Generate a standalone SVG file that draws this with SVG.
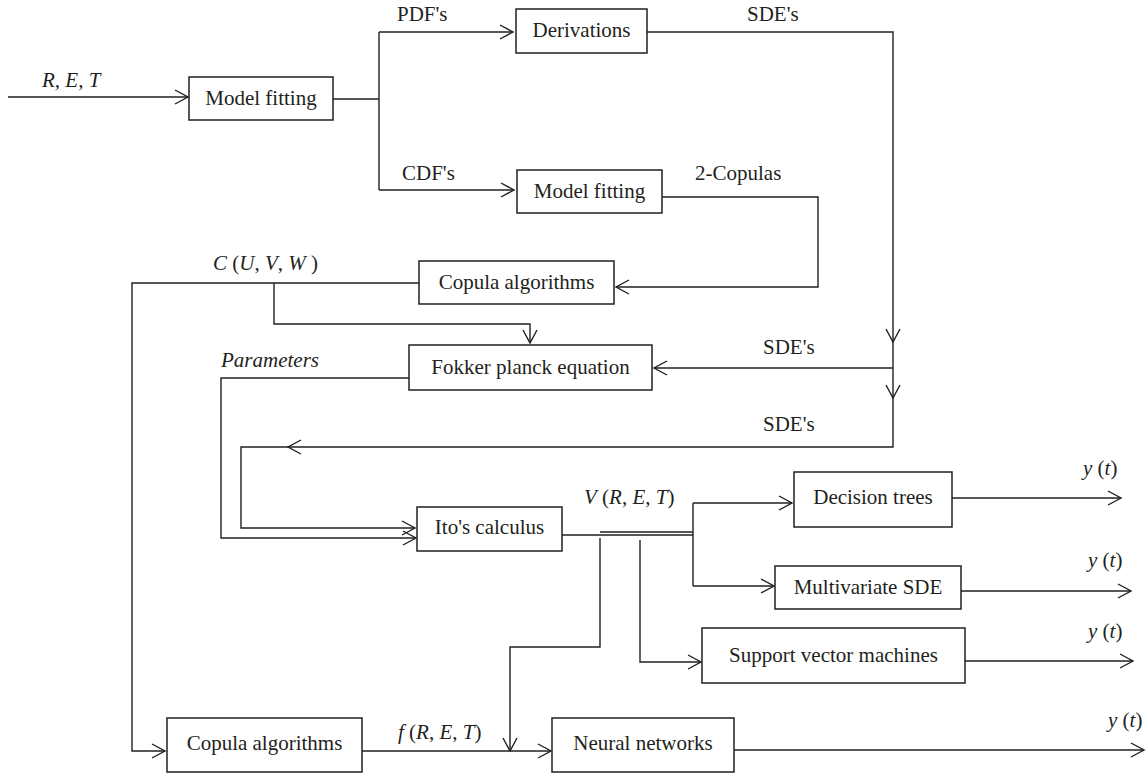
<svg xmlns="http://www.w3.org/2000/svg" width="1148" height="776" viewBox="0 0 1148 776">
<style>
.box{fill:#fff;stroke:#231f20;stroke-width:1.5}
.t{font-family:"Liberation Serif","Times New Roman",serif;font-size:21px;fill:#231f20}
.c{text-anchor:middle}
.i{font-style:italic}
.ln{fill:none;stroke:#231f20;stroke-width:1.4}
.ar{marker-end:url(#arr)}
</style>
<defs>
<marker id="arr" markerUnits="userSpaceOnUse" markerWidth="16" markerHeight="16" viewBox="0 0 16 16" refX="14" refY="8" orient="auto">
<path d="M1,1 L14,8 L1,15" fill="none" stroke="#231f20" stroke-width="1.4"/>
</marker>
</defs>
<rect width="1148" height="776" fill="#fff"/>
<g id="connectors">
<path class="ln ar" d="M8,97 H188"/>
<path class="ln" d="M333,99 H379" stroke-width="2.4"/>
<path class="ln" d="M379,32 V190"/>
<path class="ln ar" d="M379,32 H513"/>
<path class="ln ar" d="M379,190 H514"/>
<path class="ln ar" d="M647,32 H893 V342"/>
<path class="ln ar" d="M893,342 V447 H241 V528 H415"/>
<path class="ln" d="M886,385 L893,398 L900,385"/>
<path class="ln" d="M301,440 L288,447 L301,454"/>
<path class="ln ar" d="M893,368 H654"/>
<path class="ln ar" d="M662,197 H818 V287 H616"/>
<path class="ln ar" d="M419,283 H132 V751 H165"/>
<path class="ln ar" d="M274,283 V324 H530 V343"/>
<path class="ln ar" d="M410,378 H221 V538 H416"/>
<path class="ln" d="M562,535 H693"/>
<path class="ln" d="M600,532 H693"/>
<path class="ln" d="M693,503 V586"/>
<path class="ln ar" d="M693,503 H792"/>
<path class="ln ar" d="M693,586 H774"/>
<path class="ln ar" d="M600,538 V647 H510 V751"/>
<path class="ln ar" d="M640,540 V662 H701"/>
<path class="ln ar" d="M362,751 H551"/>
<path class="ln ar" d="M952,498 H1121"/>
<path class="ln ar" d="M961,591 H1131"/>
<path class="ln ar" d="M965,661 H1133"/>
<path class="ln ar" d="M734,750 H1144"/>
</g>
<g id="labels">
<text class="t i" x="42" y="87">R, E, T</text>
<text class="t" x="397" y="21">PDF's</text>
<text class="t" x="747" y="21">SDE's</text>
<text class="t" x="402" y="180">CDF's</text>
<text class="t" x="695" y="180">2-Copulas</text>
<text class="t" x="213" y="270"><tspan class="i">C</tspan> (<tspan class="i">U</tspan>, <tspan class="i">V</tspan>, <tspan class="i">W</tspan> )</text>
<text class="t i" x="221" y="367">Parameters</text>
<text class="t" x="763" y="354">SDE's</text>
<text class="t" x="763" y="431">SDE's</text>
<text class="t" x="584" y="504"><tspan class="i">V</tspan> (<tspan class="i">R</tspan>, <tspan class="i">E</tspan>, <tspan class="i">T</tspan>)</text>
<text class="t" x="398" y="739"><tspan class="i">f</tspan> (<tspan class="i">R</tspan>, <tspan class="i">E</tspan>, <tspan class="i">T</tspan>)</text>
<text class="t" x="1083" y="475"><tspan class="i">y</tspan> (<tspan class="i">t</tspan>)</text>
<text class="t" x="1088" y="567"><tspan class="i">y</tspan> (<tspan class="i">t</tspan>)</text>
<text class="t" x="1088" y="638"><tspan class="i">y</tspan> (<tspan class="i">t</tspan>)</text>
<text class="t" x="1108" y="727"><tspan class="i">y</tspan> (<tspan class="i">t</tspan>)</text>
</g>
<g id="n-modelfit1"><rect class="box" x="189" y="77" width="144" height="43"/><text class="t c" x="261" y="105">Model fitting</text></g>
<g id="n-derivations"><rect class="box" x="516" y="9" width="131" height="44"/><text class="t c" x="581.5" y="37">Derivations</text></g>
<g id="n-modelfit2"><rect class="box" x="517" y="170" width="145" height="43"/><text class="t c" x="589.5" y="198">Model fitting</text></g>
<g id="n-copula1"><rect class="box" x="419" y="261" width="195" height="43"/><text class="t c" x="516.5" y="289">Copula algorithms</text></g>
<g id="n-fokker"><rect class="box" x="409" y="345" width="243" height="45"/><text class="t c" x="530.5" y="374">Fokker planck equation</text></g>
<g id="n-ito"><rect class="box" x="417" y="507" width="145" height="44"/><text class="t c" x="489.5" y="534">Ito's calculus</text></g>
<g id="n-decision"><rect class="box" x="794" y="472" width="158" height="55"/><text class="t c" x="873" y="504">Decision trees</text></g>
<g id="n-multivariate"><rect class="box" x="775" y="566" width="186" height="43"/><text class="t c" x="868" y="594">Multivariate SDE</text></g>
<g id="n-svm"><rect class="box" x="702" y="628" width="263" height="55"/><text class="t c" x="833.5" y="662">Support vector machines</text></g>
<g id="n-copula2"><rect class="box" x="167" y="718" width="195" height="54"/><text class="t c" x="264.5" y="750">Copula algorithms</text></g>
<g id="n-neural"><rect class="box" x="552" y="718" width="182" height="54"/><text class="t c" x="643" y="750">Neural networks</text></g>
</svg>
